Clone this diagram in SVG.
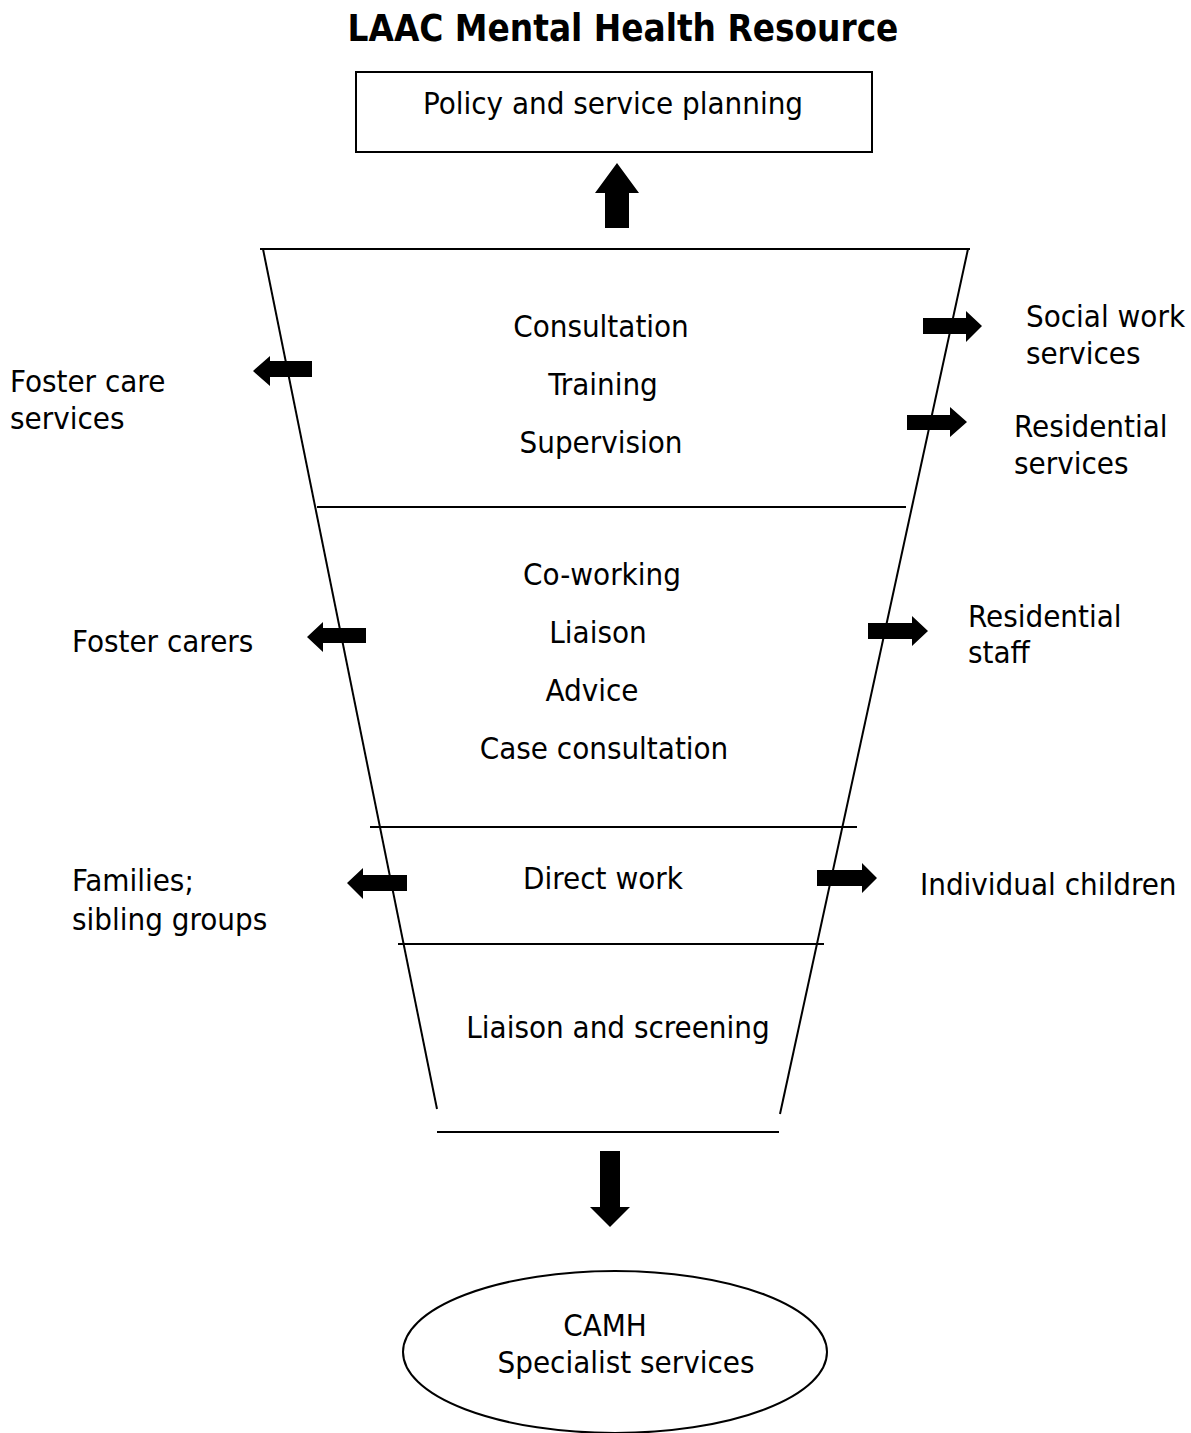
<svg xmlns="http://www.w3.org/2000/svg" width="1191" height="1433" viewBox="0 0 1191 1433">
<style>
text{font-family:"DejaVu Sans Condensed","DejaVu Sans",sans-serif;font-stretch:condensed;font-size:31px;fill:#000}
.c{text-anchor:middle}
.t{font-weight:bold;font-size:36.5px}
.ln{stroke:#000;stroke-width:2;fill:none}
.ar{fill:#000;stroke:none}
</style>
<rect width="1191" height="1433" fill="#fff"/>
<g id="title"><text class="c t" x="623" y="41">LAAC Mental Health Resource</text></g>
<g id="policy">
<rect x="356" y="72" width="516" height="80" class="ln"/>
<text class="c" x="613" y="114">Policy and service planning</text>
</g>
<g id="funnel">
<line class="ln" x1="260" y1="249" x2="970" y2="249"/>
<line class="ln" x1="263" y1="249" x2="437" y2="1109"/>
<line class="ln" x1="968" y1="249" x2="780" y2="1114"/>
<line class="ln" x1="317" y1="507" x2="906" y2="507"/>
<line class="ln" x1="370" y1="827" x2="857" y2="827"/>
<line class="ln" x1="398" y1="944" x2="824" y2="944"/>
<line class="ln" x1="437" y1="1132" x2="779" y2="1132"/>
</g>
<g id="tier1">
<text class="c" x="601" y="337">Consultation</text>
<text class="c" x="603" y="395">Training</text>
<text class="c" x="601" y="453">Supervision</text>
</g>
<g id="tier2">
<text class="c" x="602" y="585">Co-working</text>
<text class="c" x="598" y="643">Liaison</text>
<text class="c" x="592" y="701">Advice</text>
<text class="c" x="604" y="759">Case consultation</text>
</g>
<g id="tier3"><text class="c" x="603" y="889">Direct work</text></g>
<g id="tier4"><text class="c" x="618" y="1038">Liaison and screening</text></g>
<g id="foster-care-services"><text x="10" y="392">Foster care</text><text x="10" y="429">services</text></g>
<g id="social-work-services"><text x="1026" y="327">Social work</text><text x="1026" y="364">services</text></g>
<g id="residential-services"><text x="1014" y="437">Residential</text><text x="1014" y="474">services</text></g>
<g id="foster-carers"><text x="72" y="652">Foster carers</text></g>
<g id="residential-staff"><text x="968" y="627">Residential</text><text x="968" y="663">staff</text></g>
<g id="families"><text x="72" y="891">Families;</text><text x="72" y="930">sibling groups</text></g>
<g id="individual-children"><text x="920" y="895">Individual children</text></g>
<g id="camh">
<ellipse cx="615" cy="1352" rx="212" ry="81" class="ln"/>
<text class="c" x="605" y="1336">CAMH</text>
<text class="c" x="626" y="1373">Specialist services</text>
</g>
<g id="connectors">
<polygon class="ar" points="605,228 629,228 629,193 639,193 617,163 595,193 605,193"/>
<polygon class="ar" points="600,1151 620,1151 620,1207 630,1207 610,1227 590,1207 600,1207"/>
<polygon class="ar" points="312,361 312,377 270,377 270,386 253,371 270,356 270,361"/>
<polygon class="ar" points="923,318 966,318 966,311 982,326 966,342 966,334 923,334"/>
<polygon class="ar" points="907,415 950,415 950,407 967,422 950,437 950,430 907,430"/>
<polygon class="ar" points="366,628 366,643 323,643 323,652 307,637 323,622 323,628"/>
<polygon class="ar" points="868,623 912,623 912,616 928,631 912,646 912,639 868,639"/>
<polygon class="ar" points="817,870 862,870 862,863 877,878 862,893 862,886 817,886"/>
<polygon class="ar" points="407,875 407,891 363,891 363,899 347,883 363,868 363,875"/>
</g>
</svg>
